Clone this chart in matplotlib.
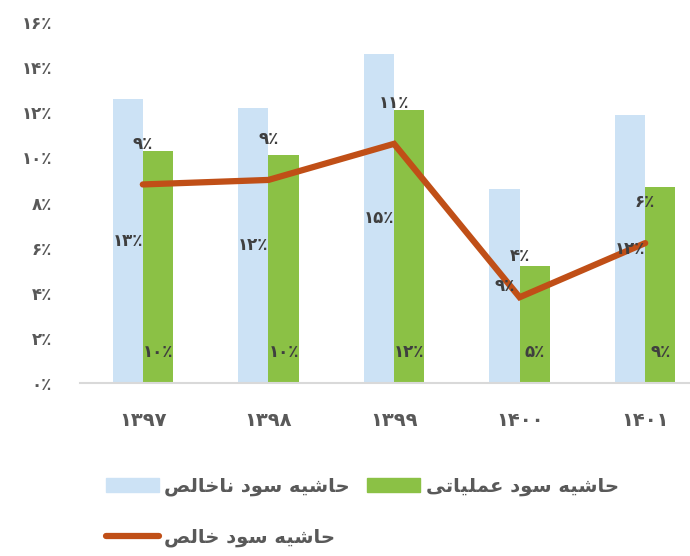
import numpy as np
import matplotlib
matplotlib.use('Agg')
import matplotlib.pyplot as plt
from matplotlib.patches import Patch
from matplotlib.lines import Line2D

# data
years = ['1397', '1398', '1399', '1400', '1401']
gross = [12.6, 12.2, 14.6, 8.6, 11.9]
operating = [10.3, 10.1, 12.1, 5.2, 8.7]
net = [8.8, 9.0, 10.6, 3.8, 6.2]
yticks = [0, 2, 4, 6, 8, 10, 12, 14, 16]
names = ['حاشیه سود ناخالص', 'حاشیه سود عملیاتی', 'حاشیه سود خالص']

# arabic shaping by hand (isolated, final, initial, medial)
FORMS = {
    'ا': ('\uFE8D', '\uFE8E', None, None),
    'د': ('\uFEA9', '\uFEAA', None, None),
    'و': ('\uFEED', '\uFEEE', None, None),
    'ح': ('\uFEA1', '\uFEA2', '\uFEA3', '\uFEA4'),
    'خ': ('\uFEA5', '\uFEA6', '\uFEA7', '\uFEA8'),
    'س': ('\uFEB1', '\uFEB2', '\uFEB3', '\uFEB4'),
    'ش': ('\uFEB5', '\uFEB6', '\uFEB7', '\uFEB8'),
    'ص': ('\uFEB9', '\uFEBA', '\uFEBB', '\uFEBC'),
    'ع': ('\uFEC9', '\uFECA', '\uFECB', '\uFECC'),
    'ل': ('\uFEDD', '\uFEDE', '\uFEDF', '\uFEE0'),
    'م': ('\uFEE1', '\uFEE2', '\uFEE3', '\uFEE4'),
    'ن': ('\uFEE5', '\uFEE6', '\uFEE7', '\uFEE8'),
    'ه': ('\uFEE9', '\uFEEA', '\uFEEB', '\uFEEC'),
    'ت': ('\uFE95', '\uFE96', '\uFE97', '\uFE98'),
    'ی': ('\uFBFC', '\uFBFD', '\uFBFE', '\uFBFF'),
}


def shape(s):
    out = []
    for i, c in enumerate(s):
        if c not in FORMS:
            out.append(c)
            continue
        prev = s[i - 1] if i > 0 else ''
        nxt = s[i + 1] if i < len(s) - 1 else ''
        jp = prev in FORMS and FORMS[prev][2] is not None
        jn = FORMS[c][2] is not None and nxt in FORMS
        f = FORMS[c]
        if jp and jn:
            out.append(f[3])
        elif jp:
            out.append(f[1])
        elif jn:
            out.append(f[2])
        else:
            out.append(f[0])
    return ''.join(out)[::-1]


def fa(s):
    return str(s).translate(str.maketrans('0123456789', '۰۱۲۳۴۵۶۷۸۹'))


def pct(v):
    return fa(int(round(v))) + '٪'


plt.rcParams['font.family'] = ['DejaVu Sans']
plt.rcParams['font.weight'] = 'bold'

blue = '#CCE2F5'
green = '#8BC145'
red = '#C04F17'
txt = '#595959'
lab = '#3F3F3F'

fig = plt.figure(figsize=(6.9, 5.56), dpi=100)
ax = fig.add_axes([80 / 690, 1 - 383 / 556, 628 / 690, 361 / 556])

x = np.arange(len(years))
w = 0.24
b1 = ax.bar(x - w / 2, gross, w, color=blue)
b2 = ax.bar(x + w / 2, operating, w, color=green)
ax.plot(x, net, color=red, lw=4.5, solid_capstyle='round', solid_joinstyle='miter')

for i in range(len(years)):
    ax.text(x[i] - w / 2, gross[i] / 2, pct(gross[i]), ha='center', va='center',
            fontsize=12, color=lab)
    ax.annotate(pct(operating[i]), (x[i] + w / 2, 0), xytext=(0, 16),
                textcoords='offset points', ha='center', va='bottom',
                fontsize=12, color=lab)
    ax.annotate(pct(net[i]), (x[i], net[i]), xytext=(0, 23),
                textcoords='offset points', ha='center', va='bottom',
                fontsize=12, color=lab)

ax.set_xlim(-0.5, 4.5)
ax.set_ylim(0, 16)
ax.set_yticks(yticks)
ax.set_yticklabels([fa(t) + '٪' for t in yticks], fontsize=12, color=txt)
ax.set_xticks(x)
ax.set_xticklabels([fa(y) for y in years], fontsize=14, color=txt)
ax.tick_params(axis='y', length=0, pad=20)
ax.tick_params(axis='x', length=0, pad=20)
for s in ['top', 'right', 'left']:
    ax.spines[s].set_visible(False)
ax.spines['bottom'].set_color('#D9D9D9')
ax.spines['bottom'].set_linewidth(1.5)

handles = [Patch(color=blue), Line2D([0], [0], color=red, lw=4.5, solid_capstyle='round'),
           Patch(color=green)]
labels = [shape(names[0]), shape(names[2]), shape(names[1])]
fig.legend(handles, labels, ncol=2, loc='upper left',
           bbox_to_anchor=(106 / 690, 1 - 477 / 556), frameon=False,
           fontsize=14, labelcolor=txt, handlelength=2.7, handleheight=0.75,
           handletextpad=0.3, columnspacing=0.9, labelspacing=1.6,
           borderaxespad=0, borderpad=0)

plt.savefig('out.png')
